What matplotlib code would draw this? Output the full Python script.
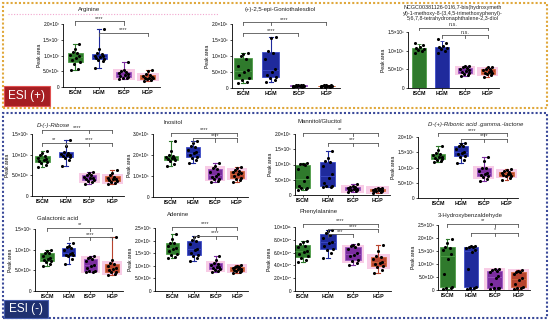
import numpy as np
import matplotlib
matplotlib.use('Agg')
import matplotlib.pyplot as plt
from matplotlib.patches import Rectangle
from matplotlib.lines import Line2D

plt.rcParams['font.family'] = ['Liberation Sans', 'DejaVu Sans']

W, H = 550, 322
GROUPS = ['ISCM', 'HGM', 'ISCP', 'HGP']
FACE = ['#2f7a2c', '#1f2a9c', '#7b2d9e', '#b8432e']
EDGE = ['#4f9e48', '#3d4cc8', '#9a55c0', '#d26a3c']
HALO = '#f8cce6'

# ---- data (values in units of each panel's scale) ----
arginine = [[0.55, 0.58, 0.72, 0.80, 0.86, 0.92, 0.98, 1.03, 1.08, 1.12, 1.20, 1.35],
            [0.60, 0.82, 0.86, 0.90, 0.93, 0.95, 0.97, 1.00, 1.04, 1.08, 1.20, 1.85],
            [0.25, 0.27, 0.30, 0.32, 0.35, 0.37, 0.40, 0.44, 0.47, 0.50, 0.55, 0.80],
            [0.20, 0.23, 0.25, 0.27, 0.29, 0.30, 0.32, 0.34, 0.37, 0.40, 0.50, 0.55]]
gonio = [[0.15, 0.20, 0.25, 0.30, 0.40, 0.50, 0.55, 0.70, 0.90, 1.00, 1.05, 1.10],
         [0.20, 0.25, 0.30, 0.35, 0.40, 0.50, 0.60, 0.90, 1.10, 1.15, 1.55, 1.60],
         [0.03, 0.04, 0.05, 0.05, 0.06, 0.06, 0.07, 0.07, 0.08, 0.08, 0.09, 0.10],
         [0.02, 0.03, 0.04, 0.05, 0.05, 0.06, 0.06, 0.07, 0.07, 0.08, 0.09, 0.10]]
ncgc = [[0.95, 1.00, 1.02, 1.05, 1.08, 1.10, 1.15, 1.20],
        [0.95, 1.00, 1.05, 1.08, 1.10, 1.12, 1.20, 1.30],
        [0.33, 0.36, 0.38, 0.40, 0.43, 0.45, 0.47, 0.50, 0.53, 0.55, 0.58, 0.60],
        [0.30, 0.34, 0.37, 0.39, 0.41, 0.43, 0.45, 0.47, 0.50, 0.52, 0.55, 0.57]]
ribose = [[0.70, 0.74, 0.79, 0.82, 0.85, 0.88, 0.89, 0.93, 0.96, 0.99, 1.05, 1.10],
          [0.72, 0.88, 0.92, 0.94, 0.96, 0.98, 0.99, 1.02, 1.05, 1.07, 1.20, 1.35],
          [0.28, 0.33, 0.37, 0.39, 0.41, 0.43, 0.44, 0.47, 0.50, 0.52, 0.55, 0.58],
          [0.28, 0.32, 0.35, 0.36, 0.38, 0.40, 0.41, 0.44, 0.47, 0.50, 0.56, 0.62]]
inositol = [[1.50, 1.58, 1.72, 1.76, 1.80, 1.84, 1.86, 1.90, 1.95, 1.98, 2.20, 2.65],
            [1.60, 1.75, 1.88, 1.92, 2.00, 2.08, 2.12, 2.25, 2.38, 2.42, 2.55, 2.65],
            [0.70, 0.78, 0.84, 0.88, 0.95, 1.02, 1.08, 1.20, 1.33, 1.38, 1.50, 1.60],
            [0.70, 0.80, 0.88, 0.92, 1.00, 1.08, 1.12, 1.18, 1.24, 1.28, 1.38, 1.45]]
mannitol = [[0.18, 0.20, 0.22, 0.23, 0.30, 0.45, 0.60, 0.85, 0.98, 1.01, 1.03, 1.05],
            [0.25, 0.27, 0.28, 0.30, 0.40, 0.55, 0.70, 0.95, 1.08, 1.12, 1.20, 1.45],
            [0.10, 0.12, 0.15, 0.16, 0.18, 0.20, 0.21, 0.23, 0.25, 0.27, 0.30, 0.35],
            [0.08, 0.10, 0.12, 0.13, 0.14, 0.15, 0.16, 0.18, 0.20, 0.21, 0.22, 0.22]]
ribonic = [[1.18, 1.22, 1.25, 1.27, 1.31, 1.34, 1.36, 1.40, 1.45, 1.47, 1.58, 1.70],
           [1.15, 1.25, 1.34, 1.37, 1.43, 1.48, 1.52, 1.60, 1.69, 1.72, 1.76, 1.80],
           [0.55, 0.62, 0.70, 0.72, 0.76, 0.79, 0.82, 0.90, 0.97, 1.00, 1.20, 1.35],
           [0.60, 0.66, 0.71, 0.73, 0.76, 0.78, 0.79, 0.82, 0.85, 0.87, 0.92, 0.95]]
galactonic = [[0.60, 0.65, 0.70, 0.72, 0.75, 0.77, 0.79, 0.85, 0.91, 0.93, 0.96, 0.98],
              [0.65, 0.78, 0.85, 0.86, 0.88, 0.90, 0.92, 0.98, 1.04, 1.06, 1.10, 1.15],
              [0.45, 0.46, 0.48, 0.49, 0.55, 0.61, 0.64, 0.72, 0.78, 0.80, 0.83, 0.85],
              [0.38, 0.42, 0.45, 0.46, 0.50, 0.54, 0.56, 0.60, 0.65, 0.67, 0.75, 1.30]]
adenine = [[1.30, 1.36, 1.44, 1.47, 1.58, 1.68, 1.72, 1.80, 1.89, 1.92, 2.05, 2.25],
           [1.20, 1.30, 1.38, 1.42, 1.52, 1.63, 1.68, 1.85, 1.98, 2.03, 2.15, 2.20],
           [0.75, 0.80, 0.84, 0.86, 0.90, 0.94, 0.96, 1.02, 1.09, 1.12, 1.25, 1.38],
           [0.70, 0.75, 0.79, 0.81, 0.84, 0.87, 0.89, 0.92, 0.95, 0.97, 1.00, 1.05]]
phenyl = [[4.6, 4.9, 5.2, 5.4, 5.8, 6.1, 6.3, 6.8, 7.1, 7.3, 7.6, 7.8],
          [5.2, 5.9, 6.4, 6.6, 7.1, 7.5, 7.7, 8.3, 8.8, 9.0, 9.3, 9.5],
          [4.0, 4.3, 4.7, 4.9, 5.4, 5.7, 5.9, 6.5, 6.8, 7.0, 7.2, 7.4],
          [2.8, 3.3, 3.7, 3.9, 4.2, 4.4, 4.6, 5.0, 5.3, 5.4, 6.2, 7.2]]
hydroxyb = [[0.05, 0.07, 0.09, 0.12, 0.60, 1.20, 1.40, 1.55, 1.63, 1.67, 1.80, 1.95],
            [0.05, 0.07, 0.09, 0.12, 0.80, 1.45, 1.55, 1.60, 1.64, 1.66, 1.68, 1.70],
            [0.05, 0.06, 0.07, 0.09, 0.25, 0.45, 0.55, 0.68, 0.74, 0.76, 0.80, 0.82],
            [0.05, 0.07, 0.09, 0.11, 0.25, 0.38, 0.45, 0.62, 0.69, 0.71, 0.75, 0.78]]

titles = ['Arginine', '(+)-2,5-epi-Goniothalesdiol',
          'NCGC00381126-01!6,7-bis(hydroxymeth\nyl)-1-methoxy-8-(3,4,5-trimethoxyphenyl)-\n5,6,7,8-tetrahydronaphthalene-2,3-diol',
          'D-(-)-Ribose', 'Inositol', 'Mannitol/Glucitol', 'D-(+)-Ribonic acid .gamma.-lactone',
          'Galactonic acid', 'Adenine', 'Phenylalanine', '3-Hydroxybenzaldehyde']
series = [arginine, gonio, ncgc, ribose, inositol, mannitol, ribonic,
          galactonic, adenine, phenyl, hydroxyb]
scales = [1e7, 1e6, 1e6, 1e5, 1e5, 1e5, 1e6, 1e5, 1e5, 1e10, 1e4]
yticks = [[0, 0.5, 1.0, 1.5, 2.0], [0, 0.5, 1.0, 1.5, 2.0], [0, 0.5, 1.0, 1.5],
          [0, 0.5, 1.0, 1.5], [0, 1.0, 2.0, 3.0], [0, 0.5, 1.0, 1.5, 2.0],
          [0, 0.5, 1.0, 1.5, 2.0], [0, 0.5, 1.0, 1.5], [0, 0.5, 1.0, 1.5, 2.0, 2.5],
          [0, 2.0, 4.0, 6.0, 8.0, 10.0], [0, 0.5, 1.0, 1.5, 2.0, 2.5]]
# significance: (from group, to groups, height as fraction of y max, label)
sig = [[(0, [2], 1.04, '****'), (1, [3], 0.86, '****')],
       [(0, [1, 3], 1.03, '****'), (0, [2], 0.86, '****')],
       [(0, [3], 1.08, 'n.s.'), (1, [2, 3], 0.95, 'n.s.')],
       [(0, [2, 3], 1.06, '****'), (0, [1], 0.86, '**'), (1, [2, 3], 0.86, '****')],
       [(0, [2, 3], 1.02, '****'), (1, [2, 3], 0.93, '****')],
       [(0, [2, 3], 1.02, '**'), (1, [2, 3], 0.86, '***')],
       [(0, [2, 3], 1.06, '****'), (1, [2, 3], 0.97, '****')],
       [(0, [2, 3], 1.02, '**'), (1, [2, 3], 0.87, '****')],
       [(0, [2, 3], 1.02, '****'), (1, [2, 3], 0.88, '****')],
       [(0, [3], 1.05, '****'), (1, [3], 0.97, '****'), (1, [2], 0.89, '***')],
       [(0, [2, 3], 1.02, '**'), (1, [2, 3], 0.88, '*')]]

# ---- layout in pixels: left, right, bottom, top tick, xlim left ----
layout = [(63, 160, 87, 24, -0.5), (232, 340, 88, 24, -0.4), (408, 499, 88, 32, -0.5),
          (32, 124, 196, 134, -0.45), (153, 248, 197, 134, -0.8), (295, 390, 195, 134, -0.3),
          (418, 518, 198, 137, -0.87), (35, 123, 291, 229, -0.55), (155, 248, 291, 228, -0.8),
          (295, 391, 291, 227, -0.3), (438, 530, 290, 225, -0.4)]
title_pos = [(78, 10, 'left'), (280, 10, 'center'), (453, 13, 'center'),
             (37, 125, 'left'), (163, 123, 'left'), (298, 122, 'left'), (428, 124, 'left'),
             (37, 218, 'left'), (167, 215, 'left'), (300, 211, 'left'), (438, 215, 'left')]
italic = [False, False, False, True, False, False, True, False, False, False, False]
halo_on = [True, False, True, True, True, True, True, True, True, True, True]
JIT = [-0.2, 0.15, -0.05, 0.22, -0.15, 0.05, 0.18, -0.22, 0.1, -0.1, 0.0, 0.2]

SUP = str.maketrans('0123456789-', '⁰¹²³⁴⁵⁶⁷⁸⁹⁻')


def sci(v):
    if v == 0:
        return '0'
    e = int(np.floor(np.log10(v) + 1e-9))
    return f'{v / 10**e:.1f}×10' + str(e).translate(SUP)


def fx(x):
    return x / W


def fy(y):
    return 1 - y / H


fig = plt.figure(figsize=(W / 100, H / 100), dpi=100)

# section frames
fig.add_artist(Rectangle((fx(3), fy(108)), fx(544), 105 / H, fill=False,
                         ec='#e0a83c', lw=1.5, ls=(0, (1, 1)), transform=fig.transFigure))
fig.add_artist(Rectangle((fx(3), fy(318)), fx(544), 205 / H, fill=False,
                         ec='#3b4a9a', lw=1.5, ls=(0, (1, 1)), transform=fig.transFigure))
fig.add_artist(Line2D([fx(8), fx(218)], [fy(13.5), fy(13.5)], color='#f2a6cf', lw=0.8,
                      ls=(0, (1, 1.5)), transform=fig.transFigure))

for k in range(len(series)):
    data = series[k]
    l, r, b, t, x0 = layout[k]
    ymax = yticks[k][-1]
    ax = fig.add_axes([fx(l), fy(b), (r - l) / W, (b - t) / H])
    ax.set_xlim(x0, 3.5)
    ax.set_ylim(0, ymax)
    for s in ['top', 'right']:
        ax.spines[s].set_visible(False)
    for s in ['left', 'bottom']:
        ax.spines[s].set_linewidth(0.6)
    ax.set_yticks(yticks[k])
    ax.set_yticklabels([sci(v * scales[k]) for v in yticks[k]])
    ax.set_xticks(range(4))
    ax.set_xticklabels(GROUPS, fontweight='bold')
    ax.tick_params(labelsize=3.4, length=1.5, width=0.5, pad=1)
    ax.tick_params(axis='x', labelsize=3.9)
    ax.set_ylabel('Peak area', fontsize=3.6, labelpad=1)

    box_idx = [0, 1, 2, 3] if k != 2 else [2, 3]
    if k == 2:
        for i in [0, 1]:
            m = np.mean(data[i])
            sd = np.std(data[i])
            ax.bar(i, m, width=0.62, color=FACE[i], ec=EDGE[i], lw=0.6, zorder=2)
            ax.errorbar(i, m, yerr=[[0], [sd * 1.6]], color=FACE[i], lw=0.7,
                        capsize=1.5, capthick=0.6, zorder=2)
    for i in box_idx:
        if i >= 2 and halo_on[k]:
            q1, q3 = np.percentile(data[i], [25, 75])
            pad = 0.04 * ymax
            ax.add_patch(Rectangle((i - 0.45, max(q1 - pad, 0)), 0.9, q3 - q1 + 2 * pad,
                                   fc=HALO, ec='none', zorder=0.5))
    bp = ax.boxplot([data[i] for i in box_idx], positions=box_idx, widths=0.62,
                    whis=(0, 100), patch_artist=True, showfliers=False,
                    manage_ticks=False)
    for n, i in enumerate(box_idx):
        bp['boxes'][n].set(facecolor=FACE[i], edgecolor=EDGE[i], lw=0.6, zorder=2)
        bp['medians'][n].set(color=EDGE[i], lw=0.6, zorder=3)
        for w in bp['whiskers'][2 * n:2 * n + 2]:
            w.set(color=FACE[i], lw=0.8)
        for c in bp['caps'][2 * n:2 * n + 2]:
            c.set(color=FACE[i], lw=0.8, xdata=[i - 0.08, i + 0.08])
    for i in range(4):
        xs = [i + JIT[j % len(JIT)] * 0.9 for j in range(len(data[i]))]
        ax.scatter(xs, data[i], s=5, color='black', zorder=4, lw=0)

    # significance brackets
    for a, js, h, lab in sig[k]:
        y = h * ymax
        tick = 0.05 * ymax
        xe = max(js)
        ax.plot([a, xe], [y, y], color='#555555', lw=0.6, clip_on=False, zorder=5)
        for xv in [a] + js:
            ax.plot([xv, xv], [y, y - tick], color='#555555', lw=0.6, clip_on=False, zorder=5)
        ax.text((a + xe) / 2, y + 0.005 * ymax, lab, ha='center', va='bottom',
                fontsize=4, color='#333333', clip_on=False)

    tx, ty, ha = title_pos[k]
    fig.text(fx(tx), fy(ty), titles[k], ha=ha, va='center', fontsize=4.3 if k != 2 else 3.9,
             style='italic' if italic[k] else 'normal', color='#222222', linespacing=1.15)

# ESI labels
fig.add_artist(Rectangle((fx(4), fy(106)), 46 / W, 20 / H, fc='#a51e22', ec='#e05050',
                         lw=0.8, transform=fig.transFigure))
fig.text(fx(27), fy(96), 'ESI (+)', ha='center', va='center', color='white', fontsize=8.5)
fig.add_artist(Rectangle((fx(4), fy(318)), 44 / W, 18 / H, fc='#1f3070', ec='#4a60b0',
                         lw=0.8, transform=fig.transFigure))
fig.text(fx(26), fy(309), 'ESI (-)', ha='center', va='center', color='white', fontsize=8.5)

fig.savefig('out.png', dpi=100)
